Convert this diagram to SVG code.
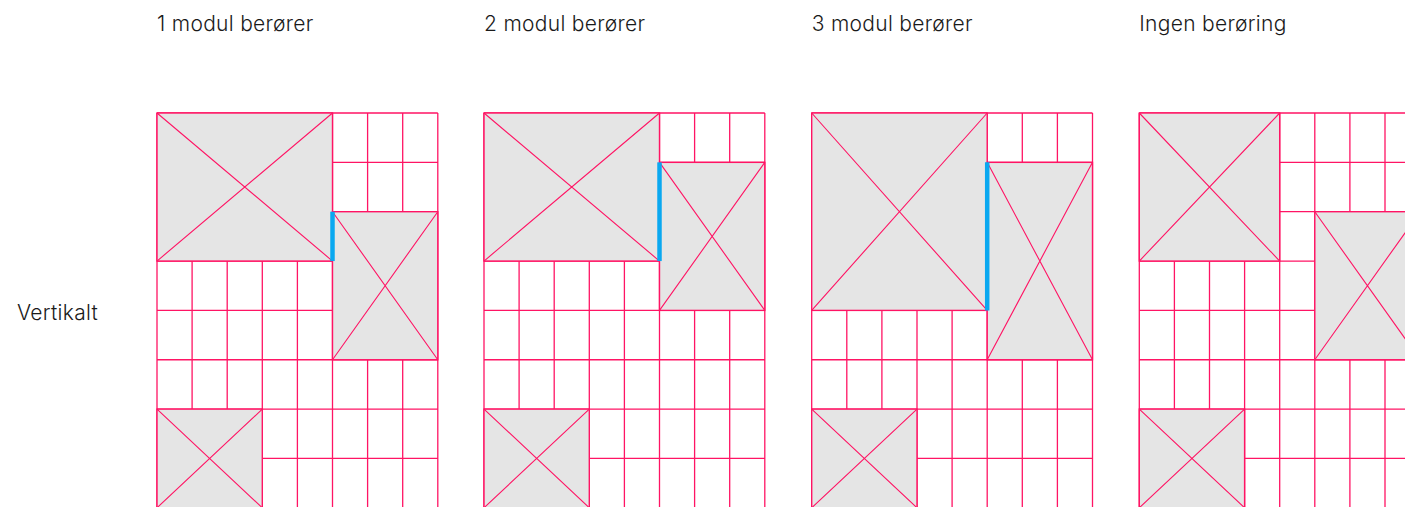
<svg xmlns="http://www.w3.org/2000/svg" xmlns:xlink="http://www.w3.org/1999/xlink" width="1405" height="507" viewBox="0 0 1405 507">
<style>
.lbl{font-family:Inter,"Liberation Sans",Arial,sans-serif;font-size:21px;font-weight:300;letter-spacing:0.3px;fill:#1a1a1a;}
.grid{fill:none;stroke:#FF1464;stroke-width:1.3;}
.img{fill:#E5E5E5;stroke:#FF1464;stroke-width:1.4;}
.x{stroke:#FF1464;stroke-width:1.1;fill:none;}
.touch{stroke:#0AA8F0;stroke-width:4.5;fill:none;}
</style>
<defs>
<path id="grid" class="grid" d="M0,0V395M35.1,0V395M70.2,0V395M105.3,0V395M140.4,0V395M175.5,0V395M210.6,0V395M245.7,0V395M280.8,0V395M0,0H280.8M0,49.35H280.8M0,98.7H280.8M0,148.05H280.8M0,197.4H280.8M0,246.75H280.8M0,296.1H280.8M0,345.45H280.8M0,394.8H280.8"/>
</defs>
<rect width="1405" height="507" fill="#fff"/>
<g id="labels">
<text class="lbl" x="157" y="31">1 modul berører</text>
<text class="lbl" x="484" y="31">2 modul berører</text>
<text class="lbl" x="811.7" y="31">3 modul berører</text>
<text class="lbl" x="1139.3" y="31">Ingen berøring</text>
<text class="lbl" x="17" y="320">Vertikalt</text>
</g>
<g id="panel1" transform="translate(157,113)">
<use xlink:href="#grid"/>
<g id="p1-imgA"><rect class="img" x="0" y="0" width="175.5" height="148.05"/><path class="x" d="M0,0L175.5,148.05M175.5,0L0,148.05"/></g>
<g id="p1-imgB"><rect class="img" x="175.5" y="98.7" width="105.3" height="148.05"/><path class="x" d="M175.5,98.7L280.8,246.75M280.8,98.7L175.5,246.75"/></g>
<g id="p1-imgC"><rect class="img" x="0" y="296.1" width="105.3" height="98.7"/><path class="x" d="M0,296.1L105.3,394.8M105.3,296.1L0,394.8"/></g>
</g>
<g id="panel2" transform="translate(484,113)">
<use xlink:href="#grid"/>
<g id="p2-imgA"><rect class="img" x="0" y="0" width="175.5" height="148.05"/><path class="x" d="M0,0L175.5,148.05M175.5,0L0,148.05"/></g>
<g id="p2-imgB"><rect class="img" x="175.5" y="49.35" width="105.3" height="148.05"/><path class="x" d="M175.5,49.35L280.8,197.4M280.8,49.35L175.5,197.4"/></g>
<g id="p2-imgC"><rect class="img" x="0" y="296.1" width="105.3" height="98.7"/><path class="x" d="M0,296.1L105.3,394.8M105.3,296.1L0,394.8"/></g>
</g>
<g id="panel3" transform="translate(811.7,113)">
<use xlink:href="#grid"/>
<g id="p3-imgA"><rect class="img" x="0" y="0" width="175.5" height="197.4"/><path class="x" d="M0,0L175.5,197.4M175.5,0L0,197.4"/></g>
<g id="p3-imgB"><rect class="img" x="175.5" y="49.35" width="105.3" height="197.4"/><path class="x" d="M175.5,49.35L280.8,246.75M280.8,49.35L175.5,246.75"/></g>
<g id="p3-imgC"><rect class="img" x="0" y="296.1" width="105.3" height="98.7"/><path class="x" d="M0,296.1L105.3,394.8M105.3,296.1L0,394.8"/></g>
</g>
<g id="panel4" transform="translate(1139.3,113)">
<use xlink:href="#grid"/>
<g id="p4-imgA"><rect class="img" x="0" y="0" width="140.4" height="148.05"/><path class="x" d="M0,0L140.4,148.05M140.4,0L0,148.05"/></g>
<g id="p4-imgB"><rect class="img" x="175.5" y="98.7" width="105.3" height="148.05"/><path class="x" d="M175.5,98.7L280.8,246.75M280.8,98.7L175.5,246.75"/></g>
<g id="p4-imgC"><rect class="img" x="0" y="296.1" width="105.3" height="98.7"/><path class="x" d="M0,296.1L105.3,394.8M105.3,296.1L0,394.8"/></g>
</g>
<g id="connectors">
<line class="touch" x1="332.5" y1="211.7" x2="332.5" y2="261.05"/>
<line class="touch" x1="659.5" y1="162.35" x2="659.5" y2="261.05"/>
<line class="touch" x1="987.2" y1="162.35" x2="987.2" y2="310.4"/>
</g>
</svg>
